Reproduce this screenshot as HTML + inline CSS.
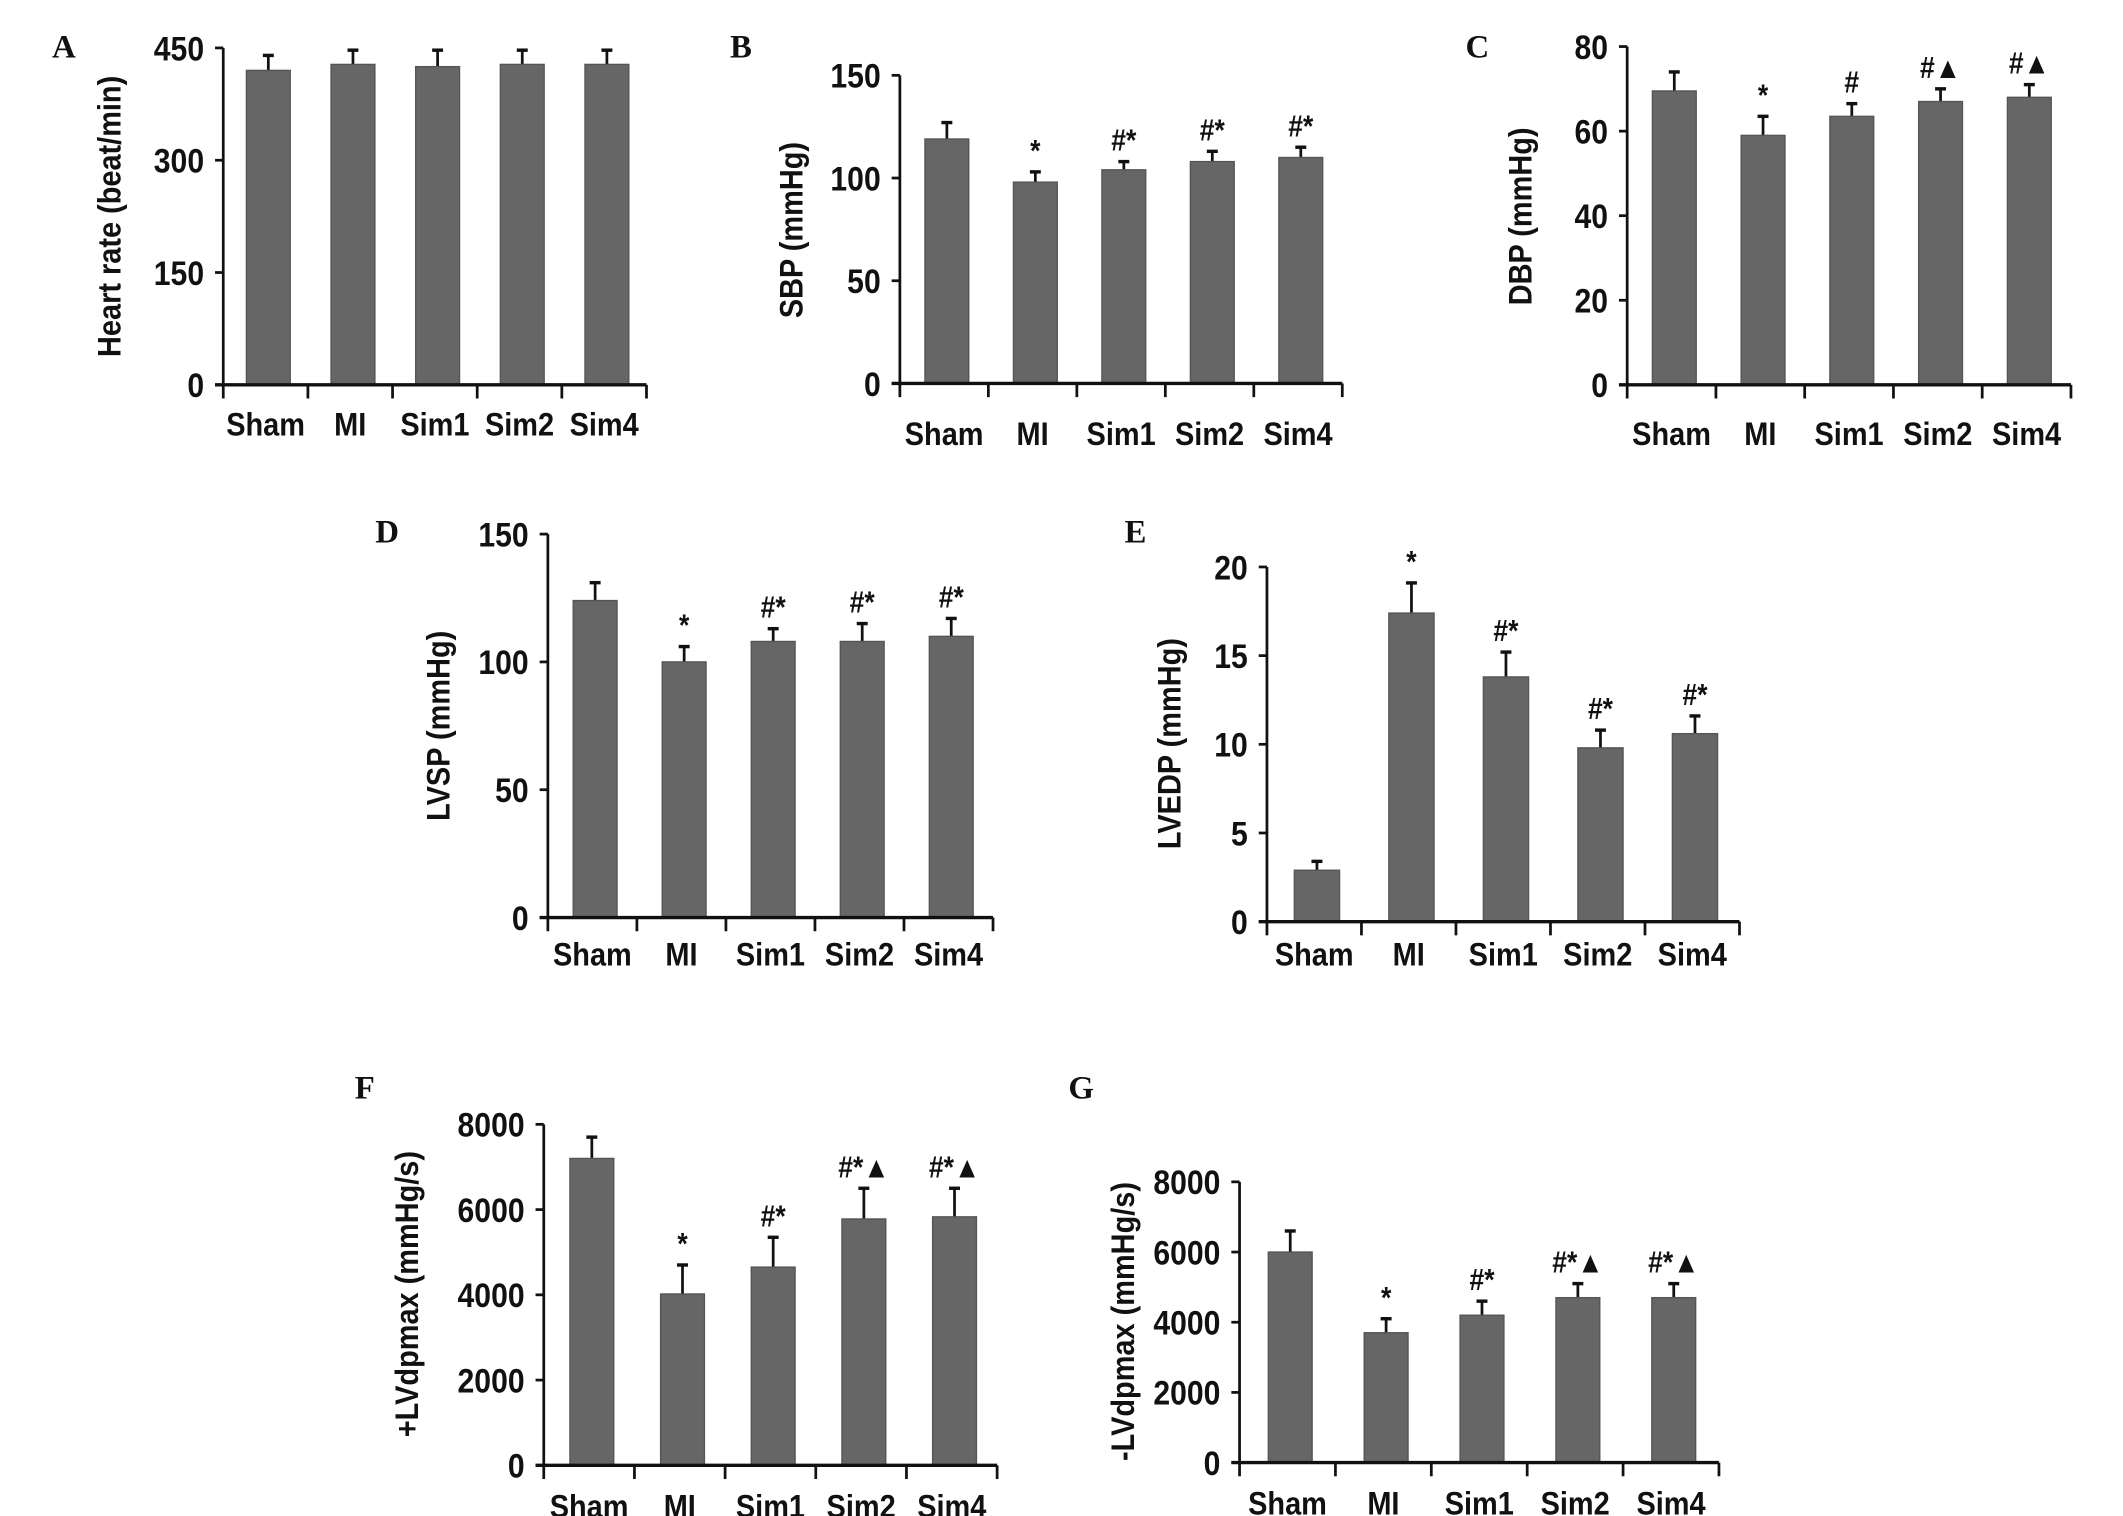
<!DOCTYPE html>
<html><head><meta charset="utf-8"><style>
html,body{margin:0;padding:0;background:#fff;}
svg{display:block;}
text{font-family:"Liberation Sans",Arial,sans-serif;font-weight:bold;fill:#111;}
.letter{font-family:"Liberation Serif",serif;font-size:24px;}
</style></head><body>
<svg id="fig" width="2123" height="1516" viewBox="0 0 1550 1107" preserveAspectRatio="none" xmlns="http://www.w3.org/2000/svg"></svg>
<script>
const categories = ["Sham","MI","Sim1","Sim2","Sim4"];
const hrValues = [420,428,425,428,428];
const hrErr = [20,19,22,19,19];
const sbpValues = [119,98,104,108,110];
const sbpErr = [8,5,4,5,5];
const dbpValues = [69.5,59,63.5,67,68];
const dbpErr = [4.5,4.5,3,3,3];
const lvspValues = [124,100,108,108,110];
const lvspErr = [7,6,5,7,7];
const lvedpValues = [2.9,17.4,13.8,9.8,10.6];
const lvedpErr = [0.5,1.7,1.4,1.0,1.0];
const plusLvdpValues = [7200,4020,4650,5780,5830];
const plusLvdpErr = [500,680,700,720,670];
const minusLvdpValues = [6000,3700,4200,4700,4700];
const minusLvdpErr = [600,400,400,400,400];
const hrTicks = [0,150,300,450];
const sbpTicks = [0,50,100,150];
const dbpTicks = [0,20,40,60,80];
const lvspTicks = [0,50,100,150];
const lvedpTicks = [0,5,10,15,20];
const lvdpTicks = [0,2000,4000,6000,8000];
const sbpMarks = ["","*","#*","#*","#*"];
const dbpMarks = ["","*","#","#\u25B2","#\u25B2"];
const lvspMarks = ["","*","#*","#*","#*"];
const lvedpMarks = ["","*","#*","#*","#*"];
const plusMarks = ["","*","#*","#*\u25B2","#*\u25B2"];
const minusMarks = ["","*","#*","#*\u25B2","#*\u25B2"];

const NS="http://www.w3.org/2000/svg";
const svg=document.getElementById('fig');
function mk(tag,attrs,parent){const e=document.createElementNS(NS,tag);for(const k in attrs)e.setAttribute(k,attrs[k]);(parent||svg).appendChild(e);return e;}
function ctext(parent,x,y,str,size,anchor,rot){
  const tr=rot?`translate(${x} ${y}) rotate(-90) scale(0.88 1)`:`translate(${x} ${y}) scale(0.88 1)`;
  const t=mk('text',{x:0,y:0,'text-anchor':anchor,'font-size':size,transform:tr},parent);
  t.textContent=str;return t;
}

const panels=[
 {id:"a",letter:"A",lx:38,ly:42,x0:163,x1:472,yTop:35,yBot:281,max:450,ticks:hrTicks,vals:hrValues,err:hrErr,marks:null,label:"Heart rate (beat/min)",labX:88,labY:158,xlY:318,bw:32},
 {id:"b",letter:"B",lx:533,ly:42,x0:657,x1:980,yTop:55,yBot:280,max:150,ticks:sbpTicks,vals:sbpValues,err:sbpErr,marks:sbpMarks,label:"SBP (mmHg)",labX:586,labY:168,xlY:325,bw:32},
 {id:"c",letter:"C",lx:1070,ly:42,x0:1188,x1:1512,yTop:34,yBot:281,max:80,ticks:dbpTicks,vals:dbpValues,err:dbpErr,marks:dbpMarks,label:"DBP (mmHg)",labX:1118,labY:158,xlY:325,bw:32},
 {id:"d",letter:"D",lx:274,ly:396,x0:400,x1:725,yTop:390,yBot:670,max:150,ticks:lvspTicks,vals:lvspValues,err:lvspErr,marks:lvspMarks,label:"LVSP (mmHg)",labX:328,labY:530,xlY:705,bw:32},
 {id:"e",letter:"E",lx:821,ly:396,x0:925,x1:1270,yTop:414,yBot:673,max:20,ticks:lvedpTicks,vals:lvedpValues,err:lvedpErr,marks:lvedpMarks,label:"LVEDP (mmHg)",labX:862,labY:543,xlY:705,bw:33},
 {id:"f",letter:"F",lx:259,ly:802,x0:397,x1:728,yTop:821,yBot:1070,max:8000,ticks:lvdpTicks,vals:plusLvdpValues,err:plusLvdpErr,marks:plusMarks,label:"+LVdpmax (mmHg/s)",labX:305,labY:945,xlY:1108,bw:32},
 {id:"g",letter:"G",lx:780,ly:802,x0:905,x1:1255,yTop:863,yBot:1068,max:8000,ticks:lvdpTicks,vals:minusLvdpValues,err:minusLvdpErr,marks:minusMarks,label:"-LVdpmax (mmHg/s)",labX:828,labY:965,xlY:1106,bw:32}
];

panels.forEach(p=>{
  const g=mk('g',{});
  
  
  const y=v=>p.yBot-(v/p.max)*(p.yBot-p.yTop);
  const n=categories.length;
  const step=(p.x1-p.x0)/n;
  const cx=i=>p.x0+step*(i+0.5)+2;
  const L=mk('text',{x:p.lx,y:p.ly,'class':'letter'},g);L.textContent=p.letter;
  
  
  p.vals.forEach((v,i)=>{
    const top=y(v), et=y(v+p.err[i]);
    const ln=mk('line',{x1:cx(i),x2:cx(i),y1:top,y2:et,stroke:'#111','stroke-width':2},g);
    
    
    mk('line',{x1:cx(i)-4,x2:cx(i)+4,y1:et,y2:et,stroke:'#111','stroke-width':2.5},g);
    const r=mk('rect',{x:cx(i)-p.bw/2,y:top,width:p.bw,height:p.yBot-top,fill:'#666',stroke:'#555','stroke-width':1},g);
    
    
    if(p.marks&&p.marks[i]){
      const t=ctext(g,cx(i),et-8,p.marks[i],22,'middle',false);
      
      
    }
    const xl=ctext(g,p.x0+step*(i+0.5),p.xlY,categories[i],24,'middle',false);
    
    
  });
  const ya=mk('line',{x1:p.x0,x2:p.x0,y1:p.yTop,y2:p.yBot,stroke:'#111','stroke-width':2},g);
  
  const xa=mk('line',{x1:p.x0-6,x2:p.x1,y1:p.yBot,y2:p.yBot,stroke:'#111','stroke-width':2.5},g);
  
  for(let i=0;i<=n;i++){mk('line',{x1:p.x0+step*i,x2:p.x0+step*i,y1:p.yBot,y2:p.yBot+10,stroke:'#111','stroke-width':2},g);}
  p.ticks.forEach(t=>{
    mk('line',{x1:p.x0-6,x2:p.x0,y1:y(t),y2:y(t),stroke:'#111','stroke-width':2},g);
    const tl=ctext(g,p.x0-14,y(t)+9,String(t),25,'end',false);
    
    
  });
  const yl=ctext(g,p.labX,p.labY,p.label,24,'middle',true);
  
  
});
</script>
</body></html>
